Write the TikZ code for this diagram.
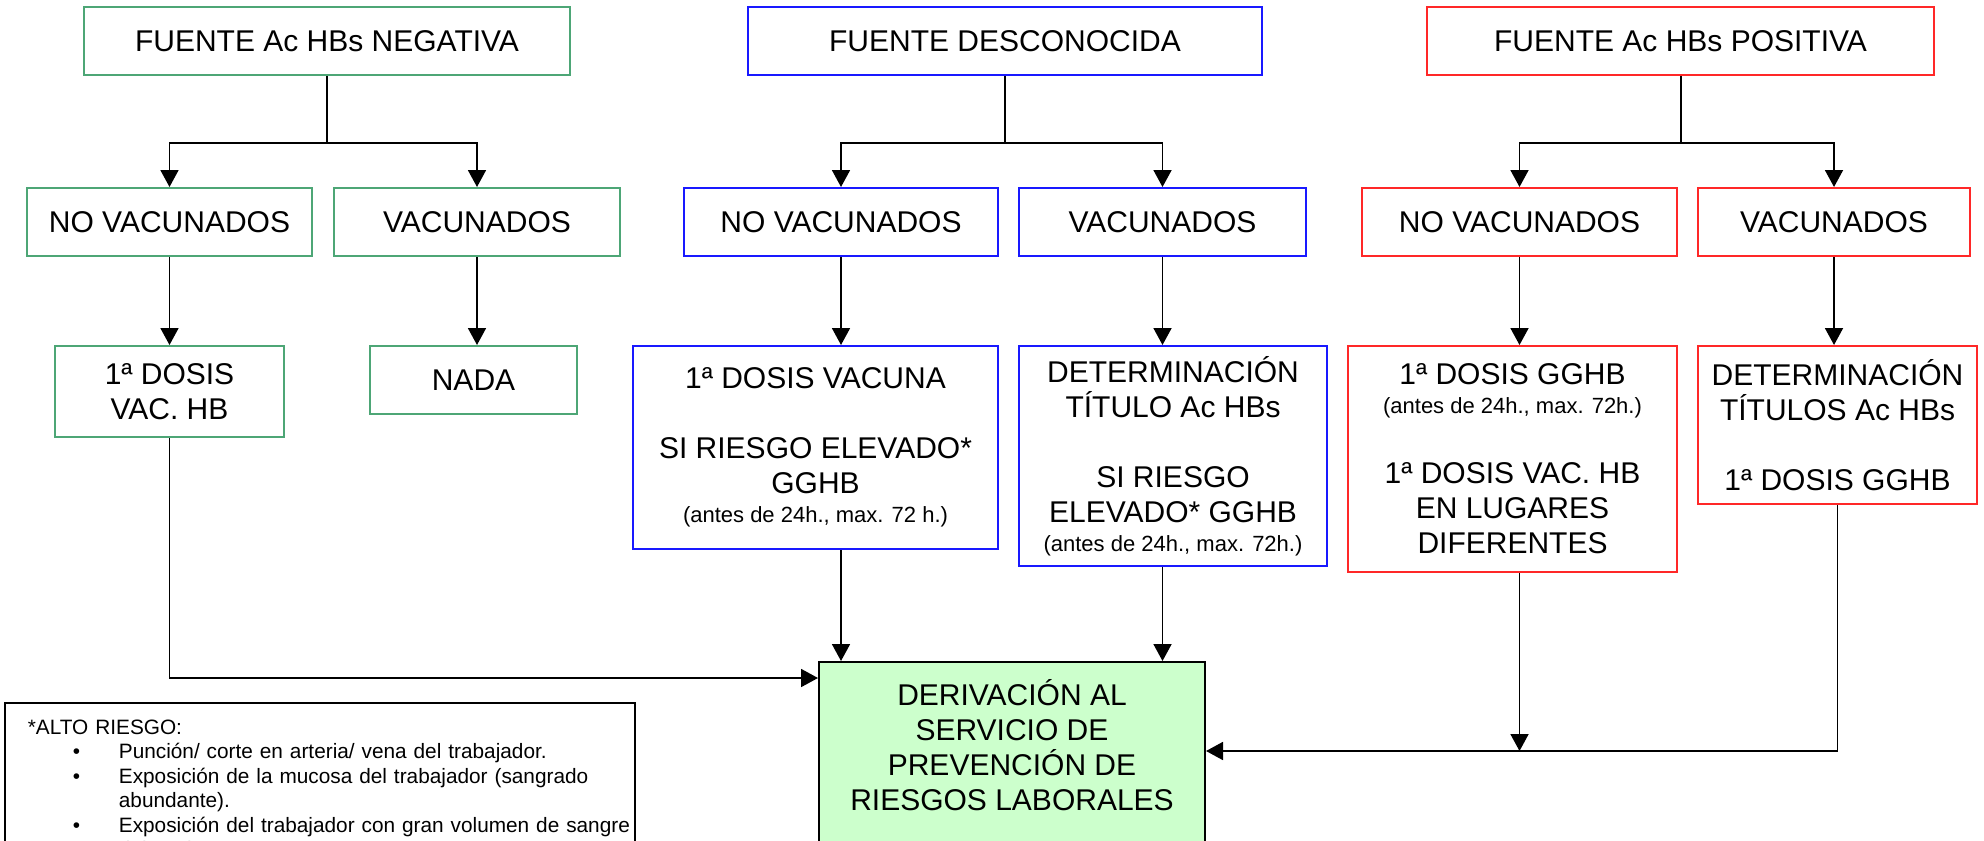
\documentclass[tikz,border=0pt]{standalone}
\usepackage{fontspec}
\setmainfont{Liberation Sans}
\usetikzlibrary{arrows.meta}

\definecolor{verde}{RGB}{77,166,118}
\definecolor{azul}{RGB}{25,25,255}
\definecolor{rojo}{RGB}{255,40,40}
\definecolor{verdeclaro}{RGB}{204,255,204}
\newcommand{\chico}[1]{{\fontsize{11}{13}\selectfont #1}}
\newcommand{\punto}{\makebox[51pt][l]{\hspace*{28pt}\textbullet}}

\begin{document}
\begin{tikzpicture}[x=0.5pt,y=-0.5pt,>={Triangle[length=8.5pt,width=9pt]},
  line width=0.9pt,
  box/.style={draw,line width=1pt,align=center,inner sep=0pt,font=\fontsize{15}{17.5}\selectfont},
  green node/.style={box,draw=verde},
  blue node/.style={box,draw=azul},
  red node/.style={box,draw=rojo}]

  \useasboundingbox (0,0) rectangle (1984,840);

  \node[green node,minimum width=243pt,minimum height=34pt] (gtop) at (327,41) {FUENTE Ac HBs NEGATIVA};
  \node[blue node,minimum width=257pt,minimum height=34pt] (btop) at (1005,41) {FUENTE DESCONOCIDA};
  \node[red node,minimum width=253.5pt,minimum height=34pt] (rtop) at (1680.5,41) {FUENTE Ac HBs POSITIVA};

  \node[green node,minimum width=142.5pt,minimum height=34pt] (gno) at (169.5,222) {NO VACUNADOS};
  \node[green node,minimum width=143pt,minimum height=34pt] (gsi) at (477,222) {VACUNADOS};
  \node[blue node,minimum width=157pt,minimum height=34pt] (bno) at (841,222) {NO VACUNADOS};
  \node[blue node,minimum width=143.5pt,minimum height=34pt] (bsi) at (1162.5,222) {VACUNADOS};
  \node[red node,minimum width=157.5pt,minimum height=34pt] (rno) at (1519.5,222) {NO VACUNADOS};
  \node[red node,minimum width=136pt,minimum height=34pt] (rsi) at (1834,222) {VACUNADOS};

  \node[green node,minimum width=114.5pt,minimum height=45.5pt] (gdosis) at (169.5,391.5) {1ª DOSIS\\VAC. HB};
  \node[green node,minimum width=103.5pt,minimum height=34pt] (nada) at (473.5,380) {NADA};
  \node[blue node,minimum width=182.5pt,minimum height=101.5pt] (bvac) at (815.5,447.5)
    {1ª DOSIS VACUNA\\[17.5pt]SI RIESGO ELEVADO*\\GGHB\\[-3pt]\chico{(antes de 24h., max. 72 h.)}};
  \node[blue node,minimum width=154pt,minimum height=110pt] (bdet) at (1173,456)
    {DETERMINACIÓN\\TÍTULO Ac HBs\\[17.5pt]SI RIESGO\\ELEVADO* GGHB\\[-3pt]\chico{(antes de 24h., max. 72h.)}};
  \node[red node,minimum width=164.5pt,minimum height=113pt] (rdosis) at (1512.5,459)
    {1ª DOSIS GGHB\\[-3pt]\chico{(antes de 24h., max. 72h.)}\\[17.5pt]1ª DOSIS VAC. HB\\EN LUGARES\\DIFERENTES};
  \node[red node,minimum width=139.5pt,minimum height=79pt] (rdet) at (1837.5,425)
    {DETERMINACIÓN\\TÍTULOS Ac HBs\\[17.5pt]1ª DOSIS GGHB};

  \node[box,fill=verdeclaro,minimum width=193pt,minimum height=109pt] (der) at (1012,771)
    {DERIVACIÓN AL\\SERVICIO DE\\PREVENCIÓN DE\\RIESGOS LABORALES\\[8.5pt]\mbox{}};

  \node[draw,anchor=north west,align=left,text width=303pt,inner xsep=6pt,inner ysep=8.5pt,
    font=\fontsize{10.4}{12.25}\selectfont] (riesgo) at (4,702)
    {\hspace*{5.5pt}*ALTO RIESGO:\\
     \punto\mbox{Punción/ corte en arteria/ vena del trabajador.}\\
     \punto\mbox{Exposición de la mucosa del trabajador (sangrado}\\
     \hspace*{51pt}abundante).\\
     \punto\mbox{Exposición del trabajador con gran volumen de sangre}\\
     \hspace*{51pt}del paciente.};

  \coordinate (gj) at (327,143);
  \coordinate (bj) at (1005,143);
  \coordinate (rj) at (1681,143);
  \coordinate (derw) at ([yshift=-8.5pt]der.north west);
  \coordinate (dere) at ([yshift=-45pt]der.north east);

  % ramas
  \draw (gtop) -- (gj);
  \draw (btop) -- (bj);
  \draw (rtop.south -| rj) -- (rj);
  \draw[->] (gj) -| (gno);
  \draw[->] (gj) -| (gsi);
  \draw[->] (bj) -| (bno);
  \draw[->] (bj) -| (bsi);
  \draw[->] (rj) -| (rno);
  \draw[->] (rj) -| (rsi);

  \path[->]
    (gno) edge (gdosis)
    (gsi) edge (gsi |- nada.north)
    (bno) edge (bno |- bvac.north)
    (bsi) edge (bsi |- bdet.north)
    (rno) edge (rno |- rdosis.north)
    (rsi) edge (rsi |- rdet.north)
    (bvac.south -| bno) edge (der.north -| bno)
    (bdet.south -| bsi) edge (der.north -| bsi)
    (rdosis.south -| rno) edge (rno |- dere);

  \draw[->] (gdosis) |- (derw);
  \draw[->] (rdet) |- (dere);

\end{tikzpicture}
\end{document}
